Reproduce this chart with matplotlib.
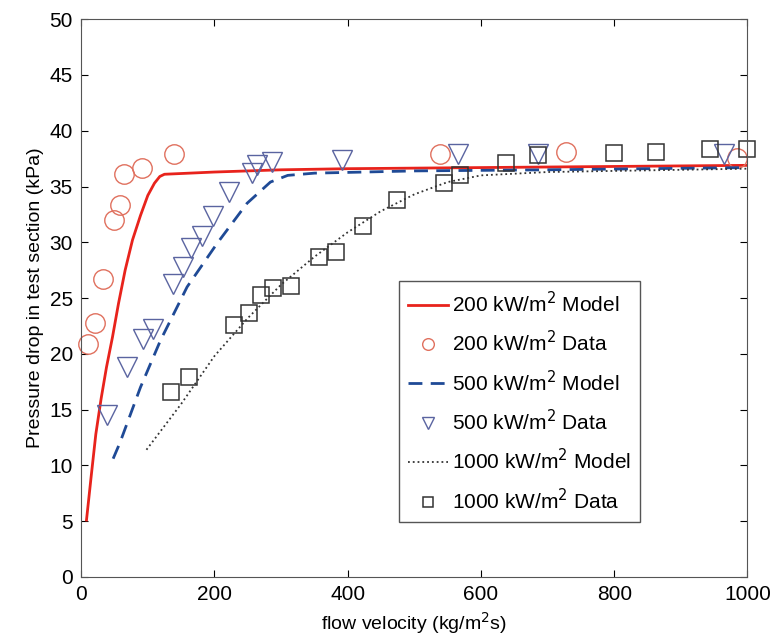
import numpy as np
import matplotlib.pyplot as plt

plt.rcParams['font.family'] = ['Liberation Sans', 'DejaVu Sans']

# model curves
m200_x = [8, 15, 22, 30, 38, 47, 56, 66, 77, 89, 100, 110, 118, 125, 200, 300, 400, 600, 800, 1000]
m200_y = [5.1, 9.0, 12.8, 16.0, 18.8, 21.5, 24.5, 27.5, 30.2, 32.4, 34.2, 35.3, 35.9, 36.1,
          36.3, 36.5, 36.6, 36.7, 36.8, 36.9]
m500_x = [48, 58, 89, 119, 159, 204, 249, 284, 310, 350, 500, 700, 1000]
m500_y = [10.6, 12.0, 17.0, 21.2, 26.0, 29.9, 33.5, 35.4, 36.0, 36.2, 36.4, 36.5, 36.7]
m1000_x = [98, 150, 200, 250, 300, 350, 400, 450, 500, 550, 600, 700, 1000]
m1000_y = [11.4, 15.5, 19.8, 23.2, 26.2, 28.7, 30.9, 32.8, 34.3, 35.4, 36.0, 36.3, 36.6]

# measured data
d200_x = [10, 21, 33, 50, 59, 65, 92, 140, 539, 728, 985]
d200_y = [20.9, 22.8, 26.7, 32.0, 33.3, 36.1, 36.7, 37.9, 37.9, 38.1, 37.6]
d500_x = [39, 69, 93, 108, 138, 153, 165, 181, 198, 222, 256, 264, 287, 392, 565, 685, 964]
d500_y = [14.5, 18.8, 21.3, 22.2, 26.3, 27.8, 29.5, 30.6, 32.4, 34.5, 36.2, 36.9, 37.2, 37.4, 37.9, 37.9, 37.9]
d1000_x = [135, 162, 229, 252, 270, 288, 315, 357, 383, 423, 474, 544, 569, 637, 685, 800, 862, 943, 1000]
d1000_y = [16.6, 17.9, 22.6, 23.7, 25.3, 25.9, 26.1, 28.7, 29.1, 31.5, 33.8, 35.3, 36.0, 37.1, 37.8, 38.0, 38.1, 38.4, 38.4]

fig = plt.figure(figsize=(7.73, 6.41), dpi=100)
ax = fig.add_axes([0.105, 0.1, 0.862, 0.87])

ax.plot(m200_x, m200_y, '-', color='#e8231c', lw=2.0, label='200 kW/m$^2$ Model')
ax.plot(d200_x, d200_y, 'o', ms=14, mfc='none', mec='#e0705e', mew=1.0,
        clip_on=False, label='200 kW/m$^2$ Data')
ax.plot(m500_x, m500_y, '--', color='#1f4a96', lw=2.0, dashes=(5, 3), label='500 kW/m$^2$ Model')
ax.plot(d500_x, d500_y, 'v', ms=15, mfc='none', mec='#5a64a0', mew=1.0,
        clip_on=False, label='500 kW/m$^2$ Data')
ax.plot(m1000_x, m1000_y, ':', color='#333333', lw=1.3, label='1000 kW/m$^2$ Model')
ax.plot(d1000_x, d1000_y, 's', ms=11, mfc='none', mec='#333333', mew=1.1,
        clip_on=False, label='1000 kW/m$^2$ Data')

ax.set_xlim(0, 1000)
ax.set_ylim(0, 50)
ax.set_xticks(np.arange(0, 1001, 200))
ax.set_yticks(np.arange(0, 51, 5))
ax.tick_params(direction='in', top=True, right=True, labelsize=15, length=5, pad=6)
for s in ax.spines.values():
    s.set_color('#555555')

ax.set_xlabel('flow velocity (kg/m$^2$s)', fontsize=14)
ax.set_ylabel('Pressure drop in test section (kPa)', fontsize=14)

leg = ax.legend(loc='lower left', bbox_to_anchor=(0.477, 0.098), fontsize=15,
                markerscale=0.6, handlelength=1.9, handletextpad=0.2,
                labelspacing=0.68, borderpad=0.45, borderaxespad=0,
                fancybox=False, framealpha=1)
leg.get_frame().set_edgecolor('#555555')
leg.get_frame().set_linewidth(1.0)

fig.savefig('out.png', dpi=100)
